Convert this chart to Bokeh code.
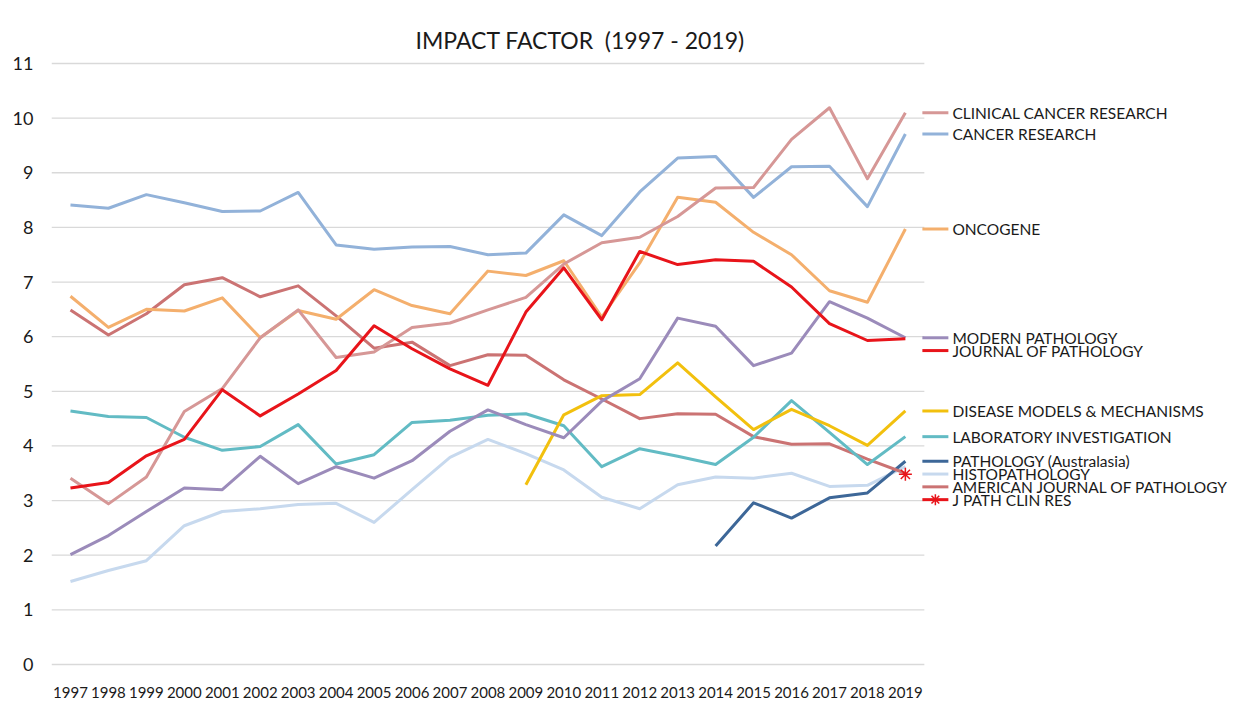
import math
from bokeh.plotting import figure
from bokeh.models import Range1d, FixedTicker, ColumnDataSource, Title
from bokeh.core.properties import value
from bokeh.embed import file_html
from bokeh.resources import INLINE

nan = float("nan")

years = list(range(1997, 2020))
y_ticks = list(range(0, 12))

series_names = [
    "CLINICAL CANCER RESEARCH",
    "CANCER RESEARCH",
    "ONCOGENE",
    "MODERN PATHOLOGY",
    "JOURNAL OF PATHOLOGY",
    "DISEASE MODELS & MECHANISMS",
    "LABORATORY INVESTIGATION",
    "PATHOLOGY (Australasia)",
    "HISTOPATHOLOGY",
    "AMERICAN JOURNAL OF PATHOLOGY",
    "J PATH CLIN RES",
]

clinical_cancer_research = [3.41, 2.94, 3.43, 4.63, 5.05, 5.98, 6.49, 5.62, 5.72, 6.17, 6.25, 6.49,
                            6.72, 7.33, 7.72, 7.82, 8.20, 8.72, 8.73, 9.61, 10.19, 8.89, 10.10]
cancer_research = [8.41, 8.35, 8.60, 8.45, 8.29, 8.30, 8.64, 7.68, 7.60, 7.64, 7.65, 7.50,
                   7.53, 8.23, 7.85, 8.65, 9.27, 9.30, 8.55, 9.11, 9.12, 8.38, 9.71]
oncogene = [6.74, 6.17, 6.50, 6.47, 6.71, 5.98, 6.48, 6.32, 6.86, 6.57, 6.42, 7.20,
            7.12, 7.39, 6.36, 7.35, 8.55, 8.46, 7.91, 7.50, 6.84, 6.63, 7.97]
modern_pathology = [2.01, 2.36, 2.80, 3.23, 3.20, 3.81, 3.31, 3.62, 3.41, 3.73, 4.27, 4.66,
                    4.39, 4.15, 4.82, 5.23, 6.34, 6.19, 5.47, 5.70, 6.64, 6.34, 5.98]
journal_of_pathology = [3.23, 3.33, 3.82, 4.12, 5.03, 4.55, 4.95, 5.38, 6.20, 5.78, 5.41, 5.11,
                        6.45, 7.26, 6.31, 7.56, 7.32, 7.41, 7.38, 6.91, 6.24, 5.93, 5.96]
disease_models = [nan, nan, nan, nan, nan, nan, nan, nan, nan, nan, nan, nan,
                  3.29, 4.57, 4.92, 4.94, 5.52, 4.90, 4.30, 4.67, 4.37, 4.01, 4.64]
laboratory_investigation = [4.64, 4.54, 4.52, 4.16, 3.92, 3.99, 4.39, 3.67, 3.84, 4.43, 4.47, 4.56,
                            4.59, 4.37, 3.62, 3.95, 3.81, 3.66, 4.16, 4.83, 4.25, 3.66, 4.17]
pathology_australasia = [nan, nan, nan, nan, nan, nan, nan, nan, nan, nan, nan, nan,
                         nan, nan, nan, nan, nan, 2.17, 2.96, 2.68, 3.05, 3.14, 3.72]
histopathology = [1.52, 1.72, 1.90, 2.54, 2.80, 2.85, 2.93, 2.95, 2.60, 3.20, 3.79, 4.12,
                  3.86, 3.56, 3.06, 2.85, 3.29, 3.43, 3.41, 3.50, 3.26, 3.28, 3.62]
american_journal_pathology = [6.49, 6.03, 6.42, 6.95, 7.08, 6.73, 6.93, 6.38, 5.79, 5.90, 5.47, 5.67,
                              5.66, 5.21, 4.86, 4.50, 4.59, 4.58, 4.17, 4.03, 4.04, 3.76, 3.50]
j_path_clin_res = [nan] * 22 + [3.48]

series_values = [
    clinical_cancer_research, cancer_research, oncogene, modern_pathology,
    journal_of_pathology, disease_models, laboratory_investigation,
    pathology_australasia, histopathology, american_journal_pathology, j_path_clin_res,
]
series_colors = [
    "#D69796", "#92B2D9", "#F4AF6D", "#9B8BBA", "#E8141A", "#F2C00E",
    "#62BBC4", "#3D6798", "#C7D9EE", "#CB7373", "#E8141A",
]
draw_order = [8, 7, 9, 6, 5, 3, 2, 1, 0, 4]

FONT = "Lato"
W, H = 1232, 702
TOP, BOTTOM, LEFT, RIGHT = 58, 36, 51, 0
FRAME_W = W - LEFT - RIGHT
FRAME_H = H - TOP - BOTTOM
PX_X = 37.95
X_START = 1996.5
X_END = X_START + FRAME_W / PX_X
PX_Y = 54.636
Y_END = 11 + 5 / PX_Y
Y_START = Y_END - FRAME_H / PX_Y

p = figure(width=W, height=H, output_backend="svg", toolbar_location=None,
           x_range=Range1d(X_START, X_END), y_range=Range1d(Y_START, Y_END),
           min_border_top=TOP, min_border_bottom=BOTTOM,
           min_border_left=LEFT, min_border_right=RIGHT)
p.outline_line_color = None
p.xgrid.visible = False
p.ygrid.visible = False
p.background_fill_color = "white"
p.border_fill_color = "white"

# gridlines spanning the category area only
p.segment(x0=[years[0] - 0.5] * len(y_ticks), x1=[years[-1] + 0.5] * len(y_ticks),
          y0=y_ticks, y1=y_ticks, line_color="#D9D9D9", line_width=1.3)

for i in draw_order:
    p.line(years, series_values[i], line_color=series_colors[i], line_width=3,
           line_join="round")

# J Path Clin Res single point
p.scatter(years, j_path_clin_res, marker="asterisk", size=13, line_color="#E8141A",
          line_width=1.5)

# axes
p.xaxis.ticker = FixedTicker(ticks=years)
p.yaxis.ticker = FixedTicker(ticks=y_ticks)
for ax in (p.xaxis, p.yaxis):
    ax.axis_line_color = None
    ax.major_tick_line_color = None
    ax.minor_tick_line_color = None
    ax.major_label_text_font = FONT
    ax.major_label_text_color = "#1a1a1a"
p.xaxis.major_label_text_font_size = "15px"
p.yaxis.major_label_text_font_size = "18px"
p.xaxis.major_label_standoff = 14
p.yaxis.major_label_standoff = 12

title = Title(text="IMPACT FACTOR \u00a0(1997 - 2019)", align="left", offset=364,
              text_font=FONT, text_font_size="23px", text_font_style="normal",
              text_color="#1a1a1a", standoff=10)
p.add_layout(title, "above")

# end-of-line labels (legend), spread vertically to avoid overlaps
GAP = 12.8
last_vals = []
for vals in series_values:
    last = [v for v in vals if not math.isnan(v)][-1]
    last_vals.append(last)
label_px = []
for k, v in enumerate(last_vals):
    px = v * PX_Y
    if k > 0 and px > label_px[-1] - GAP:
        px = label_px[-1] - GAP
    label_px.append(px)
label_y = [v / PX_Y for v in label_px]
last_year = years[-1]
src = ColumnDataSource(dict(
    x0=[last_year + 17 / PX_X] * len(series_names),
    x1=[last_year + 43 / PX_X] * len(series_names),
    xt=[last_year] * len(series_names),
    y=label_y, name=series_names, color=series_colors,
))
p.segment(x0="x0", x1="x1", y0="y", y1="y", line_color="color", line_width=3, source=src)
jsrc = ColumnDataSource(dict(x=[last_year + 30 / PX_X], y=[label_y[-1]]))
p.scatter("x", "y", marker="asterisk", size=11, line_color="#E8141A", line_width=1.5, source=jsrc)
p.text(x="xt", y="y", text="name", x_offset=47, text_baseline="middle",
       text_font=value(FONT), text_font_size="15.5px", text_color="#1a1a1a", source=src)

open("out.html", "w").write(file_html(p, INLINE))
